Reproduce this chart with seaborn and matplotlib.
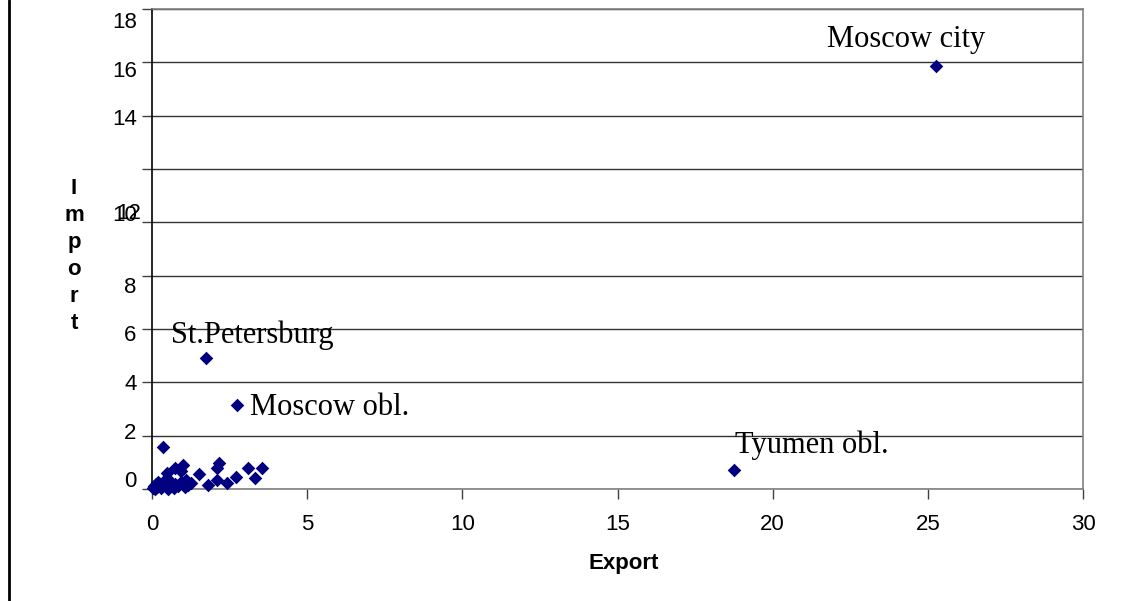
import matplotlib
matplotlib.use("Agg")
import matplotlib.pyplot as plt
from matplotlib.lines import Line2D
from matplotlib.transforms import ScaledTranslation
import seaborn as sns
import pandas as pd

# Named regions (export, import)
named_regions = ["Moscow city", "Tyumen obl.", "St.Petersburg", "Moscow obl."]
named_export = [25.27, 18.77, 1.74, 2.75]
named_import = [15.87, 0.70, 4.92, 3.15]

# Other regions (export, import)
other_export = [0.36, 1.01, 0.74, 0.47, 0.90, 1.52, 2.17, 2.10, 1.81, 2.08, 2.43, 2.71,
                3.10, 3.32, 3.56, 1.27, 1.11, 0.95,
                0.02, 0.05, 0.08, 0.12, 0.15, 0.20, 0.25, 0.30, 0.35, 0.40, 0.45, 0.55,
                0.60, 0.70, 0.75, 0.85, 0.95, 1.05, 1.15, 0.50, 0.10, 0.65]
other_import = [1.59, 0.90, 0.78, 0.59, 0.72, 0.55, 0.96, 0.78, 0.15, 0.34, 0.24, 0.44,
                0.78, 0.42, 0.78, 0.21, 0.34, 0.66,
                0.02, 0.05, 0.12, 0.20, 0.08, 0.25, 0.15, 0.05, 0.22, 0.30, 0.10, 0.18,
                0.28, 0.05, 0.20, 0.12, 0.25, 0.08, 0.15, 0.00, 0.00, 0.10]

x_ticks = [0, 5, 10, 15, 20, 25, 30]
y_ticks = [0, 2, 4, 6, 8, 10, 12, 14, 16, 18]
y_tick_labels = ["0", "2", "4", "6", "8", "10", "", "14", "16", "18"]

# vertical shift (pixels, positive = down) of each y tick label, as rendered in the original
y_label_shift = [-10, -5, 0, 4, 9, -9, 0, 1, 7, 11]

# label offsets (pixels) relative to each named point
label_offsets = [(-109, 19), (1, 17), (-35, 15), (13, -10)]

sns.set_style("white")
plt.rcParams["font.family"] = ["Liberation Sans", "DejaVu Sans"]
plt.rcParams["text.color"] = "black"
plt.rcParams["xtick.color"] = "black"
plt.rcParams["ytick.color"] = "black"

df = pd.DataFrame({
    "Export": named_export + other_export,
    "Import": named_import + other_import,
})

fig = plt.figure(figsize=(11.33, 6.01), dpi=100)
ax = fig.add_axes([152 / 1133, 1 - 489 / 601, (1083 - 152) / 1133, (489 - 9) / 601])

sns.scatterplot(data=df, x="Export", y="Import", marker="D", s=48,
                color="#000080", linewidth=0, ax=ax, zorder=3, clip_on=False)

ax.set_xlim(0, 30)
ax.set_ylim(0, 18)
ax.set_xticks(x_ticks)
ax.set_yticks(y_ticks)
ax.set_yticklabels(y_tick_labels)
ax.set_xlabel("")
ax.set_ylabel("")
ax.tick_params(axis="x", direction="out", length=7, width=1, color="#404040",
               labelcolor="black", labelsize=16, pad=11, bottom=True)
ax.tick_params(axis="y", direction="out", length=7, width=1, color="#404040",
               labelcolor="black", labelsize=16, pad=4, left=True)

for lbl, sh in zip(ax.get_yticklabels(), y_label_shift):
    lbl.set_transform(lbl.get_transform() + ScaledTranslation(0, -sh / 100, fig.dpi_scale_trans))

ax.yaxis.grid(True, color="#333333", linewidth=1)
ax.xaxis.grid(False)
ax.set_axisbelow(True)
for side in ["top", "right", "bottom"]:
    ax.spines[side].set_color("#808080")
    ax.spines[side].set_linewidth(1.2)
ax.spines["left"].set_color("black")
ax.spines["left"].set_linewidth(1.2)

# overlapping "12" label drawn near the 10 position, as in the original
ax.annotate("12", xy=(0, 10), xycoords=("axes fraction", "data"),
            xytext=(-11, 9), textcoords="offset pixels", ha="right", va="center",
            fontsize=16, color="black")

for name, xv, yv, (dx, dy) in zip(named_regions, named_export, named_import, label_offsets):
    ax.annotate(name, xy=(xv, yv), xytext=(dx, dy), textcoords="offset pixels",
                ha="left", va="baseline", fontsize=22, family="Liberation Serif",
                color="black")

fig.text(624 / 1133, 1 - 563 / 601, "Export", ha="center", va="center",
         fontsize=16, fontweight="bold", color="black")
fig.text(74 / 1133, 1 - 256 / 601, "I\nm\np\no\nr\nt", ha="center", va="center",
         fontsize=16, fontweight="bold", linespacing=1.38, color="black")

fig.add_artist(Line2D([9 / 1133, 9 / 1133], [0, 1], transform=fig.transFigure,
                      color="black", linewidth=2))

fig.savefig("out.png", dpi=100, facecolor="white")
